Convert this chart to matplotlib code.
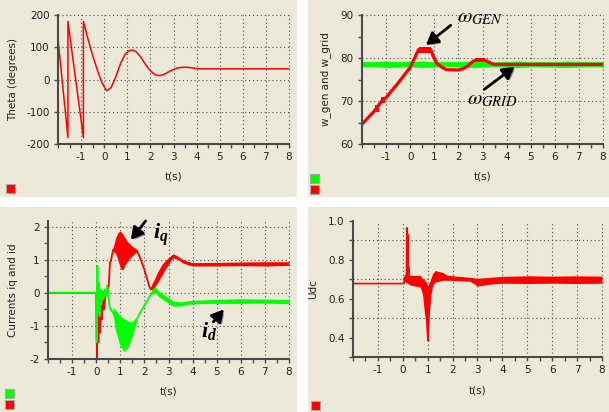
import matplotlib
matplotlib.use('Agg')
import matplotlib.pyplot as plt
from matplotlib.patches import Rectangle
from matplotlib.ticker import MultipleLocator, FixedLocator
import matplotlib.patheffects as pe

# ---- values ----
# top left: rotor angle
theta_t = [-2, -1.57, -1.57, -0.9, -0.9, -0.7, -0.5, -0.3, -0.1, 0.1, 0.3, 0.5, 0.7, 0.9, 1.1,
           1.25, 1.4, 1.6, 1.8, 2.0, 2.2, 2.4, 2.6, 2.8, 3.0, 3.2, 3.4, 3.6, 3.8, 4.0, 4.2, 8]
theta = [125, -180, 180, -180, 180, 125, 75, 30, -10, -35, -25, 8, 48, 78, 90,
         91, 85, 68, 45, 27, 15, 12, 16, 24, 31, 36, 38, 38, 36, 34, 33, 33]

# top right: generator / grid speed
wgen_t = [-2, -1.5, -1.15, -1.0, -0.5, 0, 0.2, 0.35, 0.85, 0.95, 1.1, 1.3, 1.5, 2.0, 2.2,
          2.4, 2.6, 2.75, 3.1, 3.3, 3.5, 8]
wgen = [64.6, 67.6, 70.2, 70.8, 74.2, 77.8, 80.2, 82.0, 82.0, 80.5, 78.8, 77.9, 77.3, 77.2, 77.5,
        78.2, 79.2, 79.6, 79.5, 78.9, 78.5, 78.5]
blob_t0 = [-1.47, -1.22, 0.35, 2.7]
blob_t1 = [-1.3, -1.05, 0.85, 3.1]
blob_lo = [67.4, 69.5, 81.2, 79.0]
blob_hi = [69.0, 71.0, 82.6, 80.0]
wgrid_t = [-2, -1.5, -1, -0.5, 0, 0.5, 1, 1.5, 2, 2.5, 3, 3.5, 4, 4.5, 5, 5.5, 6, 6.5, 7, 7.5, 8]
wgrid_hi = [79.1, 79.0, 79.2, 79.0, 79.1, 79.2, 79.0, 79.1, 79.0, 79.2, 79.1, 79.0, 79.1, 79.2,
            79.0, 79.1, 79.0, 79.2, 79.1, 79.0, 79.1]
wgrid_lo = [78.0, 78.1, 77.9, 78.0, 78.1, 77.9, 78.0, 78.1, 78.0, 77.9, 78.0, 78.1, 78.0, 77.9,
            78.1, 78.0, 78.0, 77.9, 78.0, 78.1, 78.0]

# bottom left: currents
iq_t = [-2, 0, 0.03, 0.06, 0.09, 0.12, 0.16, 0.2, 0.24, 0.28, 0.33, 0.38, 0.45, 0.52, 0.57, 0.62,
        0.7, 0.8, 1.0, 1.2, 1.4, 1.6, 1.7, 1.8, 1.9, 2.0, 2.1, 2.2, 2.27, 2.35, 2.45, 2.6, 2.8,
        3.0, 3.2, 3.4, 3.6, 3.8, 4.0, 4.5, 5, 6, 7, 8]
iq = [0, 0, -2.0, -0.3, -1.5, -0.6, -1.2, -0.4, -0.8, -0.1, -0.5, -0.1, 0.0, 0.2, 0.9, 1.0,
      1.3, 1.35, 1.3, 1.25, 1.3, 1.32, 1.25, 1.1, 0.9, 0.7, 0.45, 0.2, 0.1, 0.2, 0.35, 0.6, 0.85,
      1.0, 1.12, 1.05, 0.95, 0.9, 0.86, 0.85, 0.86, 0.87, 0.87, 0.88]
iq_band_t = [0.7, 0.8, 0.9, 1.0, 1.1, 1.2, 1.3, 1.4, 1.55, 1.7]
iq_hi = [1.35, 1.65, 1.82, 1.87, 1.78, 1.66, 1.55, 1.47, 1.38, 1.3]
iq_lo = [1.25, 1.2, 1.0, 0.75, 0.68, 0.85, 0.95, 1.05, 1.15, 1.25]
iq_noise_t = [2.3, 2.5, 2.7, 2.9, 3.1, 3.2, 3.4, 3.6, 3.8, 4.0, 5.0, 6.0, 7.0, 8.0]
iq_noise_hi = [0.25, 0.5, 0.75, 0.97, 1.12, 1.18, 1.1, 1.0, 0.95, 0.91, 0.92, 0.93, 0.94, 0.94]
iq_noise_lo = [0.05, 0.25, 0.5, 0.75, 0.98, 1.06, 1.0, 0.9, 0.85, 0.81, 0.81, 0.82, 0.81, 0.83]

id_t = [-2, 0, 0.02, 0.05, 0.08, 0.11, 0.14, 0.18, 0.22, 0.26, 0.3, 0.35, 0.4, 0.45, 0.5, 0.55,
        0.6, 0.7, 0.9, 1.1, 1.3, 1.5, 1.7, 1.9, 2.1, 2.3, 2.4, 2.5, 2.7, 2.9, 3.1, 3.3, 3.5, 3.8,
        4.2, 5, 6, 7, 8]
id_ = [0, 0, -1.5, 0.82, -0.6, 0.3, -0.7, 0.1, -0.3, 0.05, -0.2, 0.1, -0.1, 0.22, 0.05, -0.4,
       -0.5, -0.6, -0.95, -1.2, -1.1, -0.95, -0.78, -0.5, -0.25, -0.02, 0.1, 0.0, -0.1, -0.2,
       -0.3, -0.33, -0.35, -0.3, -0.28, -0.27, -0.25, -0.25, -0.27]
id_band_t = [0.7, 0.78, 0.98, 1.15, 1.33, 1.51, 1.65, 1.72]
id_hi = [-0.43, -0.5, -0.68, -0.78, -0.85, -0.88, -0.83, -0.78]
id_lo = [-0.6, -1.08, -1.58, -1.78, -1.63, -1.28, -0.93, -0.8]
id_noise_t = [2.3, 2.45, 2.6, 2.8, 3.0, 3.2, 3.5, 3.8, 4.2, 5, 6, 7, 8]
id_noise_hi = [0.1, 0.18, 0.05, -0.05, -0.15, -0.25, -0.28, -0.24, -0.22, -0.2, -0.18, -0.19, -0.2]
id_noise_lo = [-0.05, 0.0, -0.12, -0.22, -0.32, -0.4, -0.4, -0.35, -0.33, -0.32, -0.32, -0.31, -0.33]

# bottom right: dc link voltage
udc_t = [-2, 0.05, 0.06, 0.12, 0.15, 0.16, 0.18, 0.2, 0.22, 0.24, 0.27, 0.29, 0.32, 0.4, 0.5,
         0.6, 0.7, 0.78, 0.85, 0.9, 0.95, 0.98, 1.01, 1.04, 1.08, 1.15, 1.25, 1.4, 1.6, 2.0, 2.5,
         3.0, 3.3, 3.6, 4.0, 5, 6, 7, 8]
udc = [0.678, 0.678, 0.71, 0.70, 0.72, 0.965, 0.72, 0.93, 0.74, 0.76, 0.70, 0.68, 0.71, 0.70,
       0.69, 0.70, 0.69, 0.66, 0.62, 0.55, 0.50, 0.45, 0.385, 0.5, 0.6, 0.68, 0.72, 0.72, 0.715,
       0.71, 0.70, 0.69, 0.685, 0.69, 0.697, 0.697, 0.697, 0.697, 0.697]
udc_band_t = [0.06, 0.3, 0.7, 0.78, 0.85, 0.92, 0.97, 1.01, 1.05, 1.12, 1.2, 1.3, 1.6, 1.8, 2.7,
              3.0, 3.5, 4, 5, 6, 7, 8]
udc_hi = [0.725, 0.72, 0.72, 0.705, 0.70, 0.69, 0.68, 0.66, 0.68, 0.70, 0.73, 0.745, 0.735,
          0.72, 0.71, 0.705, 0.71, 0.715, 0.718, 0.716, 0.718, 0.716]
udc_lo = [0.69, 0.67, 0.66, 0.63, 0.60, 0.49, 0.47, 0.385, 0.5, 0.61, 0.67, 0.685, 0.695, 0.695,
          0.69, 0.665, 0.675, 0.68, 0.678, 0.68, 0.678, 0.68]

W, H = 609, 412
BG = '#ECE9D8'
RED = '#FF0000'
GREEN = '#00FF00'
AXC = '#4a4a4a'
GRIDC = '#505050'

plt.rcParams['axes.unicode_minus'] = False
plt.rcParams['font.family'] = 'DejaVu Sans'
plt.rcParams['mathtext.it'] = 'Liberation Serif:italic:bold'
plt.rcParams['mathtext.rm'] = 'Liberation Serif:bold'

fig = plt.figure(figsize=(W / 100, H / 100), dpi=100, facecolor='white')


def box(x0, y0, x1, y1):
    # pixel box from the top-left corner -> figure fraction [l, b, w, h]
    return [x0 / W, 1 - y1 / H, (x1 - x0) / W, (y1 - y0) / H]


for b in [(0, 0, 297, 197), (308, 0, 609, 197), (0, 207, 297, 412), (308, 207, 609, 412)]:
    l, bt, w, h = box(*b)
    fig.add_artist(Rectangle((l, bt), w, h, transform=fig.transFigure,
                             facecolor=BG, edgecolor='none', zorder=-5))


def swatch(x, y, color):
    l, bt, w, h = box(x, y, x + 9, y + 9)
    fig.add_artist(Rectangle((l, bt), w, h, transform=fig.transFigure,
                             facecolor=color, edgecolor='#a8a8a8', lw=0.8, zorder=5))


def setup(ax, ylim, yticks, yminor, hgrid, ylabel, xlab_y, ylab_x):
    ax.set_facecolor('none')
    ax.set_xlim(-2, 8)
    ax.set_ylim(*ylim)
    for s in ['top', 'right']:
        ax.spines[s].set_visible(False)
    for s in ['left', 'bottom']:
        ax.spines[s].set_color(AXC)
        ax.spines[s].set_linewidth(1.5)
    ax.xaxis.set_major_locator(FixedLocator(range(-1, 9)))
    ax.xaxis.set_minor_locator(MultipleLocator(0.5))
    ax.set_yticks(yticks)
    if yminor:
        ax.yaxis.set_minor_locator(MultipleLocator(yminor))
    ax.tick_params(which='both', direction='out', length=3, width=1, color=AXC,
                   labelsize=7.5, pad=3, labelcolor='#222222')
    for x in range(-1, 9):
        ax.axvline(x, color=GRIDC, lw=0.8, ls=(0, (1, 2.5)), zorder=0.5, clip_on=False)
    for y in hgrid:
        ax.axhline(y, color=GRIDC, lw=0.8, ls=(0, (1, 2.5)), zorder=0.5, clip_on=False)
    ax.set_xlabel('t(s)', fontsize=7.5, color='#222222')
    ax.xaxis.set_label_coords(0.5, xlab_y)
    ax.set_ylabel(ylabel, fontsize=7.5, color='#222222')
    ax.yaxis.set_label_coords(ylab_x, 0.5)


def arrow(ax, text_xy, tip):
    ann = ax.annotate('', xy=tip, xytext=text_xy, annotation_clip=False,
                      arrowprops=dict(arrowstyle='-|>,head_length=0.9,head_width=0.5',
                                      lw=2.0, color='black', shrinkA=0, shrinkB=0,
                                      mutation_scale=8))
    ann.arrow_patch.set_path_effects([pe.SimplePatchShadow(offset=(1.5, -1.5), alpha=0.35),
                                      pe.Normal()])


# --- top left ---
ax1 = fig.add_axes(box(58, 15, 289, 144))
setup(ax1, (-200, 200), [-200, -100, 0, 100, 200], None, [-100, 0, 100, 200],
      'Theta (degrees)', -0.217, -0.173)
ax1.plot(theta_t, theta, color=RED, lw=1.1)
swatch(6, 184, RED)

# --- top right ---
ax2 = fig.add_axes(box(362, 15, 603, 144))
setup(ax2, (60, 90), [60, 70, 80, 90], 5, [70, 80, 90],
      'w_gen and w_grid', -0.217, -0.129)
ax2.plot(wgen_t, wgen, color=RED, lw=2.3, solid_capstyle='butt')
for t0, t1, lo, hi in zip(blob_t0, blob_t1, blob_lo, blob_hi):
    ax2.fill_between([t0, t1], [lo, lo], [hi, hi], color=RED, lw=0)
ax2.fill_between(wgrid_t, wgrid_lo, wgrid_hi, color=GREEN, lw=0.6, edgecolor=GREEN)
ax2.text(1.93, 88.4, r'$\omega_{GEN}$', fontsize=15, math_fontfamily='stix', va='baseline')
arrow(ax2, (1.68, 87.6), (0.65, 83.0))
ax2.text(2.35, 69.3, r'$\omega_{GRID}$', fontsize=15, math_fontfamily='stix', va='baseline')
arrow(ax2, (3.07, 72.7), (4.34, 78.0))
swatch(310, 174, GREEN)
swatch(310, 185, RED)

# --- bottom left ---
ax3 = fig.add_axes(box(48, 221, 289, 359))
setup(ax3, (-2, 2.17), [-2, -1, 0, 1, 2], 0.5, [-1, 0, 1, 2],
      'Currents iq and id', -0.196, -0.124)
ax3.plot(iq_t, iq, color=RED, lw=1.3)
ax3.fill_between(iq_band_t, iq_lo, iq_hi, color=RED, lw=0)
ax3.fill_between(iq_noise_t, iq_noise_lo, iq_noise_hi, color=RED, lw=0)
ax3.plot(id_t, id_, color=GREEN, lw=1.3)
ax3.fill_between(id_band_t, id_lo, id_hi, color=GREEN, lw=0)
ax3.fill_between(id_noise_t, id_noise_lo, id_noise_hi, color=GREEN, lw=0)
ax3.text(2.37, 1.62, r'$i_q$', fontsize=16, math_fontfamily='custom', va='baseline')
arrow(ax3, (2.05, 2.17), (1.44, 1.6))
ax3.text(4.33, -1.33, r'$i_d$', fontsize=16, math_fontfamily='custom', va='baseline')
arrow(ax3, (4.86, -0.88), (5.3, -0.5))
swatch(5, 389, GREEN)
swatch(5, 400, RED)

# --- bottom right ---
ax4 = fig.add_axes(box(353, 221, 602, 357))
setup(ax4, (0.3, 1.0), [0.4, 0.6, 0.8, 1.0], 0.1, [0.5, 0.7, 0.9],
      'Udc', -0.213, -0.141)
ax4.yaxis.set_major_formatter(plt.FormatStrFormatter('%.1f'))
ax4.fill_between(udc_band_t, udc_lo, udc_hi, color=RED, lw=0)
ax4.plot(udc_t, udc, color=RED, lw=1.2)
swatch(311, 401, RED)

fig.savefig('out.png', dpi=100, facecolor='white')
